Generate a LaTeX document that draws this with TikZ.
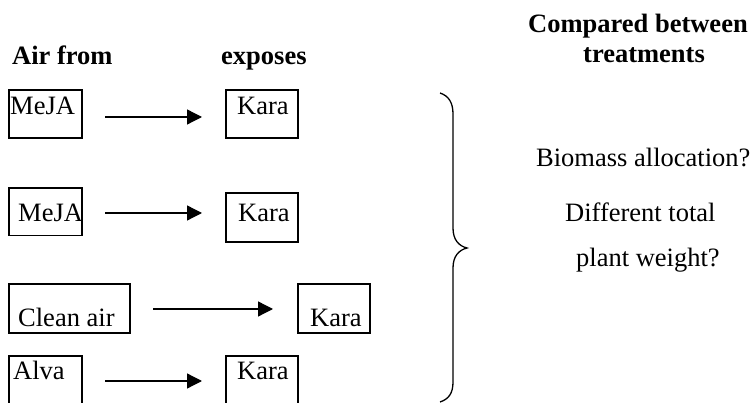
\documentclass[tikz,border=0pt]{standalone}
\usepackage{fontspec}
\setmainfont{Liberation Serif}
\usetikzlibrary{arrows.meta}
\tikzset{
  box/.style={draw, line width=1.3pt, anchor=north west, inner sep=0pt, outer sep=0pt},
  lbl/.style={anchor=base west, inner sep=0pt, font=\fontsize{26.5}{30}\selectfont},
  head/.style={anchor=base west, inner sep=0pt, font=\fontsize{26.5}{30}\selectfont\bfseries},
  arr/.style={line width=1.3pt, -{Triangle[length=15pt,width=15pt]}},
  bracestyle/.style={line width=1.3pt}
}
\begin{document}
\begin{tikzpicture}[x=1pt,y=-1pt]
\useasboundingbox (0,0) rectangle (753,403);
\clip (0,0) rectangle (753,403);
% headings
\node[head] (h1) at (12,65) {Air from};
\node[head] (h2) at (221,65) {exposes};
\node[head] (h3) at (528,33) {Compared between};
\node[head] (h4) at (583,63) {treatments};
% boxes
\node[box, minimum width=73pt, minimum height=48pt] (b1) at (9,90) {};
\node[box, minimum width=72pt, minimum height=48pt] (k1) at (226,90) {};
\node[box, minimum width=73pt, minimum height=47.5pt] (b2) at (9,188) {};
\node[box, minimum width=72pt, minimum height=49pt] (k2) at (226,193) {};
\node[box, minimum width=121pt, minimum height=49pt] (b3) at (9,284) {};
\node[box, minimum width=72pt, minimum height=49pt] (k3) at (298,284) {};
\node[box, minimum width=73pt, minimum height=60pt] (b4) at (9,356) {};
\node[box, minimum width=72pt, minimum height=60pt] (k4) at (226,356) {};
% texts
\node[lbl] (t1) at (10,115) {MeJA};
\node[lbl] (u1) at (237,115) {Kara};
\node[lbl] (t2) at (18,222) {MeJA};
\node[lbl] (u2) at (238,222) {Kara};
\node[lbl] (t3) at (18,327) {Clean air};
\node[lbl] (u3) at (310,327) {Kara};
\node[lbl] (t4) at (13,380) {Alva};
\node[lbl] (u4) at (237,380) {Kara};
% arrows
\coordinate (a1s) at (105,117); \coordinate (a1e) at (202,117);
\coordinate (a2s) at (105,213); \coordinate (a2e) at (202,213);
\coordinate (a3s) at (153,309); \coordinate (a3e) at (273,309);
\coordinate (a4s) at (105,381); \coordinate (a4e) at (202,381);
\draw[arr] (a1s) -- (a1e);
\draw[arr] (a2s) -- (a2e);
\draw[arr] (a3s) -- (a3e);
\draw[arr] (a4s) -- (a4e);
% brace
\coordinate (bt) at (440,93);
\coordinate (bm) at (467,248);
\coordinate (bb) at (440,402);
\draw[bracestyle] (bt) .. controls (449,96) and (453,103) .. (453,114)
  -- (453,228) .. controls (453,240) and (459,246) .. (bm)
  .. controls (459,250) and (453,256) .. (453,268)
  -- (453,382) .. controls (453,393) and (449,399) .. (bb);
% right texts
\node[lbl] (r1) at (536,167) {Biomass allocation?};
\node[lbl] (r2) at (565,222) {Different total};
\node[lbl] (r3) at (576,267) {plant weight?};
\end{tikzpicture}
\end{document}
